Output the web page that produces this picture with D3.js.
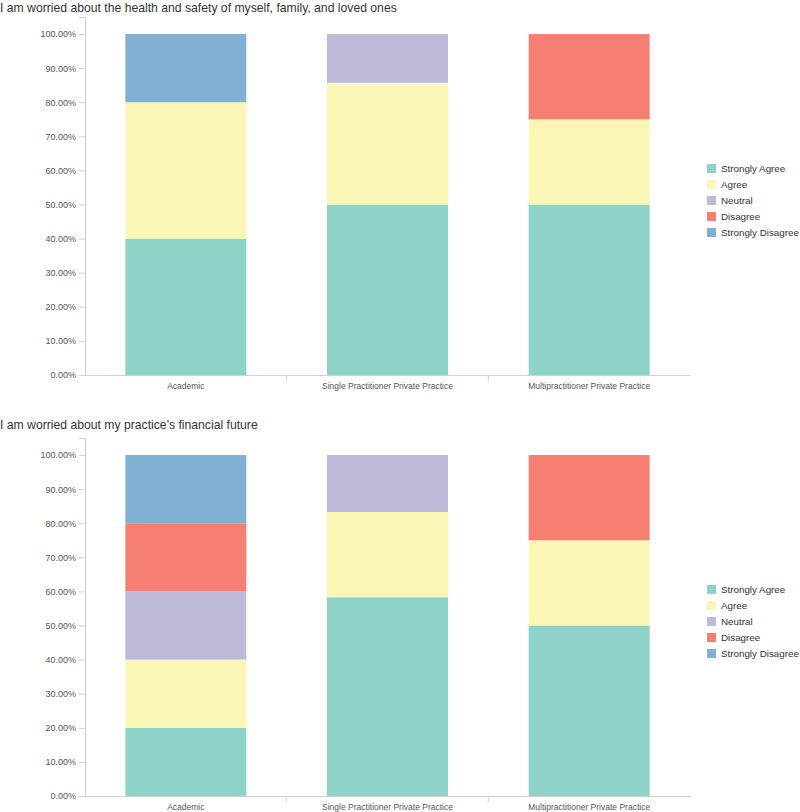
<!DOCTYPE html>
<html>
<head>
<meta charset="utf-8">
<script src="https://cdn.jsdelivr.net/npm/d3@7"></script>
<style>
  body { margin: 0; background: #fff; }
  text { font-family: "Liberation Sans", Arial, Helvetica, sans-serif; }
</style>
</head>
<body>
<svg id="chart" width="800" height="812"></svg>
<script>
const categories = ["Academic", "Single Practitioner Private Practice", "Multipractitioner Private Practice"];
const responses = ["Strongly Agree", "Agree", "Neutral", "Disagree", "Strongly Disagree"];
const colors = ["#8dd3c7", "#faf6b5", "#bebada", "#f58072", "#80b1d3"];
const yTicks = [0, 0.1, 0.2, 0.3, 0.4, 0.5, 0.6, 0.7, 0.8, 0.9, 1.0];

const title1 = "I am worried about the health and safety of myself, family, and loved ones";
// values per response, in category order
const health_StronglyAgree    = [0.40, 0.500, 0.50];
const health_Agree            = [0.40, 0.357, 0.25];
const health_Neutral          = [0.00, 0.143, 0.00];
const health_Disagree         = [0.00, 0.000, 0.25];
const health_StronglyDisagree = [0.20, 0.000, 0.00];

const title2 = "I am worried about my practice's financial future";
const finance_StronglyAgree    = [0.20, 0.583, 0.50];
const finance_Agree            = [0.20, 0.250, 0.25];
const finance_Neutral          = [0.20, 0.167, 0.00];
const finance_Disagree         = [0.20, 0.000, 0.25];
const finance_StronglyDisagree = [0.20, 0.000, 0.00];

const charts = [
  { title: title1, series: [health_StronglyAgree, health_Agree, health_Neutral, health_Disagree, health_StronglyDisagree] },
  { title: title2, series: [finance_StronglyAgree, finance_Agree, finance_Neutral, finance_Disagree, finance_StronglyDisagree] }
];

const svg = d3.select("#chart");
const color = d3.scaleOrdinal().domain(responses).range(colors);

charts.forEach((c, i) => {
  const g = svg.append("g").attr("transform", `translate(0,${i * 421})`);
  const top = 17, bottom = 375, left = 85, right = 690;

  g.append("text").attr("x", 0).attr("y", i === 0 ? 12 : 8)
    .attr("font-size", 12.2).attr("fill", "#333").text(c.title);

  const x = d3.scaleBand().domain(categories).range([left, right]).paddingInner(0.4).paddingOuter(0.2);
  const y = d3.scaleLinear().domain([0, 1.05]).range([bottom, top]);

  const rows = categories.map((cat, ci) => {
    const o = { cat };
    responses.forEach((r, ri) => o[r] = c.series[ri][ci]);
    return o;
  });
  const stacked = d3.stack().keys(responses)(rows);

  g.append("g").selectAll("g").data(stacked).join("g")
    .attr("fill", d => color(d.key))
    .selectAll("rect").data(d => d).join("rect")
    .attr("x", d => x(d.data.cat))
    .attr("width", x.bandwidth())
    .attr("y", d => y(d[1]))
    .attr("height", d => Math.max(0, y(d[0]) - y(d[1])));

  // y axis
  const yAxis = d3.axisLeft(y).tickValues(yTicks).tickFormat(d3.format(".2%")).tickSize(6).tickPadding(3);
  const ya = g.append("g").attr("transform", `translate(${left},0)`).call(yAxis);
  ya.select(".domain").attr("stroke", "#d0d0d0");
  ya.selectAll(".tick line").attr("stroke", "#d0d0d0");
  ya.selectAll(".tick text").attr("fill", "#555").attr("font-size", 9)
    .attr("font-family", "Liberation Sans, Arial, sans-serif");

  // x axis
  const xAxis = d3.axisBottom(x).tickSize(0).tickPadding(8);
  const xa = g.append("g").attr("transform", `translate(0,${bottom})`).call(xAxis);
  xa.select(".domain").attr("stroke", "#d0d0d0");
  xa.selectAll(".tick text").attr("fill", "#555").attr("font-size", 8.5)
    .attr("font-family", "Liberation Sans, Arial, sans-serif");
  // separators between categories
  const seps = categories.slice(1).map(cat => x(cat) - x.step() * x.paddingInner() / 2);
  xa.selectAll(".sep").data(seps).join("line").attr("class", "sep")
    .attr("x1", d => d).attr("x2", d => d).attr("y1", 0).attr("y2", 6)
    .attr("stroke", "#d0d0d0");

  // legend
  const lg = g.append("g").attr("transform", "translate(707,169)");
  const items = lg.selectAll("g").data(responses).join("g")
    .attr("transform", (d, k) => `translate(0,${k * 16})`);
  items.append("rect").attr("x", 0).attr("y", -5).attr("width", 9).attr("height", 9)
    .attr("fill", d => color(d));
  items.append("text").attr("x", 14).attr("y", 0).attr("dy", "0.35em")
    .attr("font-size", 9.8).attr("fill", "#333").text(d => d);
});
</script>
</body>
</html>
